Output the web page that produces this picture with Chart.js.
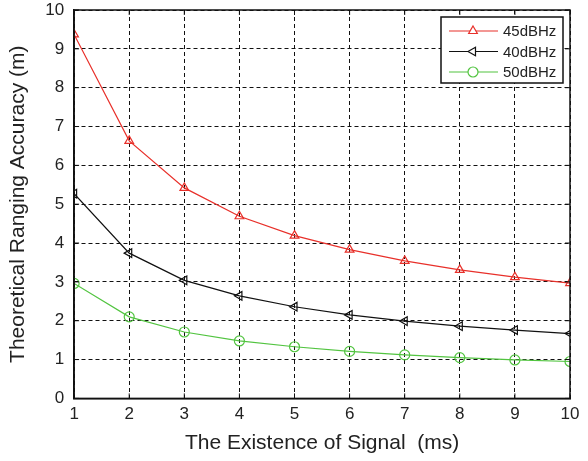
<!DOCTYPE html>
<html>
<head>
<meta charset="utf-8">
<script src="https://cdn.jsdelivr.net/npm/chart.js@4/dist/chart.umd.min.js"></script>
<style>
  html, body { margin: 0; padding: 0; background: #fff; }
  #wrap { width: 588px; height: 461px; }
</style>
</head>
<body>
<div id="wrap"><canvas id="rangeChart"></canvas></div>
<script>
const signalMs = [1, 2, 3, 4, 5, 6, 7, 8, 9, 10];
const acc45 = [9.37, 6.63, 5.42, 4.69, 4.19, 3.83, 3.54, 3.31, 3.12, 2.97];
const acc40 = [5.27, 3.74, 3.04, 2.64, 2.36, 2.15, 1.99, 1.86, 1.76, 1.67];
const acc50 = [2.96, 2.10, 1.71, 1.48, 1.33, 1.21, 1.12, 1.05, 0.99, 0.95];
const seriesNames = ["45dBHz", "40dBHz", "50dBHz"];
const lineColors = ["#e8302a", "#111111", "#52c440"];

const FONT = "'Liberation Sans', Arial, sans-serif";

function toPoints(vals) {
  return vals.map((v, i) => ({ x: signalMs[i], y: v }));
}

// full box around the plot plus inward tick marks on all four sides
const frame = {
  id: "frame",
  afterDraw(chart) {
    const { ctx, chartArea: a, scales } = chart;
    ctx.save();
    ctx.strokeStyle = "#111";
    ctx.lineWidth = 1.5;
    ctx.strokeRect(a.left, a.top, a.right - a.left, a.bottom - a.top);
    ctx.lineWidth = 1;
    ctx.beginPath();
    scales.x.ticks.forEach(t => {
      const px = scales.x.getPixelForValue(t.value);
      ctx.moveTo(px, a.bottom); ctx.lineTo(px, a.bottom - 5);
      ctx.moveTo(px, a.top); ctx.lineTo(px, a.top + 5);
    });
    scales.y.ticks.forEach(t => {
      const py = scales.y.getPixelForValue(t.value);
      ctx.moveTo(a.left, py); ctx.lineTo(a.left + 5, py);
      ctx.moveTo(a.right, py); ctx.lineTo(a.right - 5, py);
    });
    ctx.stroke();
    ctx.restore();
  }
};

// boxed legend in the upper right corner, line + marker per series
const boxLegend = {
  id: "boxLegend",
  afterDraw(chart) {
    const { ctx, chartArea: a } = chart;
    const w = 122, h = 66;
    const x0 = a.right - 7 - w, y0 = a.top + 7;
    ctx.save();
    ctx.fillStyle = "#fff";
    ctx.fillRect(x0, y0, w, h);
    ctx.strokeStyle = "#111";
    ctx.lineWidth = 1.5;
    ctx.strokeRect(x0, y0, w, h);
    ctx.font = "15px " + FONT;
    ctx.textBaseline = "middle";
    chart.data.datasets.forEach((ds, i) => {
      const y = y0 + 14 + i * 20.5;
      ctx.strokeStyle = ds.borderColor;
      ctx.lineWidth = 1.2;
      ctx.beginPath();
      ctx.moveTo(x0 + 8, y); ctx.lineTo(x0 + 57, y);
      ctx.stroke();
      ctx.fillStyle = "#fff";
      Chart.helpers.drawPoint(ctx, {
        pointStyle: ds.pointStyle, rotation: ds.pointRotation,
        radius: ds.pointRadius, borderWidth: 1.2
      }, x0 + 32, y);
      ctx.fillStyle = "#222";
      ctx.fillText(ds.label, x0 + 62, y + 1);
    });
    ctx.restore();
  }
};

const styles = ["triangle", "triangle", "circle"];
const rotations = [0, -90, 0];
const values = [acc45, acc40, acc50];

new Chart("rangeChart", {
  type: "line",
  data: {
    datasets: values.map((vals, i) => ({
      label: seriesNames[i],
      data: toPoints(vals),
      borderColor: lineColors[i],
      backgroundColor: "rgba(0,0,0,0)",
      borderWidth: 1.2,
      pointStyle: styles[i],
      pointRotation: rotations[i],
      pointRadius: 5,
      pointBorderWidth: 1.2,
      tension: 0
    }))
  },
  options: {
    responsive: true,
    maintainAspectRatio: false,
    animation: false,
    layout: { padding: { top: 0, right: 18, left: 6, bottom: 5 } },
    plugins: { legend: { display: false }, tooltip: { enabled: false } },
    scales: {
      x: {
        type: "linear", min: 1, max: 10,
        ticks: { stepSize: 1, color: "#222", font: { size: 17, family: FONT }, padding: 6 },
        grid: { color: "#111", lineWidth: 1, drawTicks: false },
        border: { display: true, color: "#111", width: 1.5, dash: [4, 3] },
        title: { display: true, text: "The Existence of Signal  (ms)", color: "#222",
                 font: { size: 21, family: FONT }, padding: { top: 0, bottom: 0 } }
      },
      y: {
        min: 0, max: 10,
        // keep the plot top close to the canvas edge
        afterFit(scale) { scale.paddingTop = 10; },
        ticks: { stepSize: 1, color: "#222", font: { size: 17, family: FONT }, padding: 10 },
        grid: { color: "#111", lineWidth: 1, drawTicks: false },
        border: { display: true, color: "#111", width: 1.5, dash: [4, 3] },
        title: { display: true, text: "Theoretical Ranging Accuracy (m)", color: "#222",
                 font: { size: 21, family: FONT }, padding: { top: 0, bottom: 4 } }
      }
    }
  },
  plugins: [frame, boxLegend]
});
</script>
</body>
</html>
